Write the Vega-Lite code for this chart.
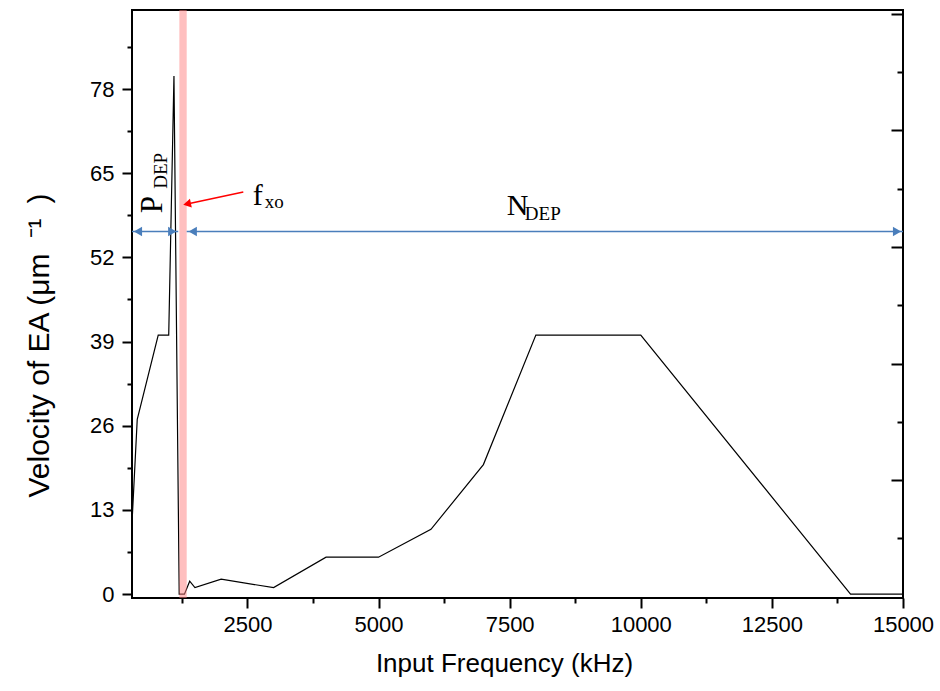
{
  "$schema": "https://vega.github.io/schema/vega-lite/v6.json",
  "autosize": "none",
  "width": 771,
  "height": 588,
  "padding": {"left": 132, "top": 10, "right": 37, "bottom": 93},
  "background": "white",
  "config": {
    "view": {"stroke": "black", "strokeWidth": 2},
    "font": "Liberation Sans"
  },
  "datasets": {
    "curve": [
      {"f": 300, "v": 11}, {"f": 400, "v": 27}, {"f": 800, "v": 40}, {"f": 1000, "v": 40},
      {"f": 1100, "v": 80}, {"f": 1200, "v": 0}, {"f": 1300, "v": 0}, {"f": 1400, "v": 2},
      {"f": 1500, "v": 1}, {"f": 2000, "v": 2.3}, {"f": 3000, "v": 1}, {"f": 4000, "v": 5.7},
      {"f": 5000, "v": 5.7}, {"f": 6000, "v": 10}, {"f": 7000, "v": 20}, {"f": 8000, "v": 40},
      {"f": 10000, "v": 40}, {"f": 14000, "v": 0}, {"f": 15000, "v": 0}
    ],
    "band": [{"a": 1203, "b": 1343, "lo": -0.6, "hi": 90.2}],
    "blue": [{"a": 300, "b": 1181, "v": 56}, {"a": 1343, "b": 15000, "v": 56}],
    "blueL": [{"f": 414, "v": 56}, {"f": 1458, "v": 56}],
    "blueR": [{"f": 1067, "v": 56}, {"f": 14886, "v": 56}],
    "red": [{"a": 2422, "av": 62.1, "b": 1350, "bv": 60.24}],
    "redHead": [{"f": 1350, "v": 60.24}],
    "big": [{"f": 2600, "v": 60.06, "t": "f"}, {"f": 7444, "v": 58.5, "t": "N"}],
    "small": [{"f": 2830, "v": 59.6, "t": "xo"}, {"f": 7790, "v": 57.7, "t": "DEP"}],
    "rotBig": [{"f": 872, "v": 58.8, "t": "P"}],
    "rotSmall": [{"f": 960, "v": 62.6, "t": "DEP"}]
  },
  "resolve": {"axis": {"y": "independent"}},
  "layer": [
    {
      "data": {"name": "curve"},
      "mark": {"type": "line", "color": "black", "strokeWidth": 1.2, "clip": true},
      "encoding": {
        "x": {
          "field": "f", "type": "quantitative",
          "scale": {"domain": [300, 15000], "nice": false, "zero": false},
          "axis": {
            "values": [1250, 2500, 3750, 5000, 6250, 7500, 8750, 10000, 11250, 12500, 13750, 15000],
            "format": "d",
            "labelExpr": "datum.value % 2500 === 0 ? datum.label : ''",
            "tickSize": {"condition": {"test": "datum.value % 2500 === 0", "value": 10}, "value": 5},
            "tickWidth": 2, "tickColor": "black", "domain": false, "grid": false,
            "labelFontSize": 22, "labelColor": "black", "labelPadding": 6,
            "labelFlush": false, "labelOverlap": false,
            "title": "Input Frequency (kHz)", "titleFontSize": 26, "titleFontWeight": "normal",
            "titleColor": "black", "titlePadding": 15, "titleX": 372, "titleAlign": "center"
          }
        },
        "y": {
          "field": "v", "type": "quantitative",
          "scale": {"domain": [-0.6, 90.2], "nice": false, "zero": false},
          "axis": {
            "orient": "left",
            "values": [0, 6.5, 13, 19.5, 26, 32.5, 39, 45.5, 52, 58.5, 65, 71.5, 78, 84.5],
            "format": "d",
            "labelExpr": "datum.value % 13 === 0 ? datum.label : ''",
            "tickSize": {"condition": {"test": "datum.value % 13 === 0", "value": 10}, "value": 5},
            "tickWidth": 2, "tickColor": "black", "domain": false, "grid": false,
            "labelFontSize": 22, "labelColor": "black", "labelPadding": 8,
            "labelOverlap": false,
            "title": "Velocity of EA (μm\u2002⁻¹\u2002)", "titleFontSize": 30, "titleFontWeight": "normal",
            "titleColor": "black", "titlePadding": 35, "titleY": 335, "titleAlign": "center"
          }
        }
      }
    },
    {
      "data": {"name": "band"},
      "mark": {"type": "rect", "color": "#ff7f7f", "opacity": 0.5},
      "encoding": {
        "x": {"field": "a", "type": "quantitative"},
        "x2": {"field": "b"},
        "y": {
          "field": "lo", "type": "quantitative",
          "axis": {
            "orient": "right",
            "values": [8.6, 17.6, 26.6, 35.6, 44.6, 53.6, 62.6, 71.6, 80.6, 89.6],
            "labels": false, "title": null, "domain": false, "grid": false,
            "tickSize": {"condition": {"test": "round((datum.value + 0.4) / 9) % 2 === 0", "value": -12}, "value": -6},
            "tickWidth": 2, "tickColor": "black"
          }
        },
        "y2": {"field": "hi"}
      }
    },
    {
      "data": {"name": "blue"},
      "mark": {"type": "rule", "color": "#4a7ebb", "strokeWidth": 1.5},
      "encoding": {
        "x": {"field": "a", "type": "quantitative"},
        "x2": {"field": "b"},
        "y": {"field": "v", "type": "quantitative", "axis": null}
      }
    },
    {
      "data": {"name": "blueL"},
      "mark": {"type": "point", "shape": "triangle-left", "filled": true, "color": "#4a7ebb", "size": 90, "opacity": 1},
      "encoding": {
        "x": {"field": "f", "type": "quantitative"},
        "y": {"field": "v", "type": "quantitative", "axis": null}
      }
    },
    {
      "data": {"name": "blueR"},
      "mark": {"type": "point", "shape": "triangle-right", "filled": true, "color": "#4a7ebb", "size": 90, "opacity": 1},
      "encoding": {
        "x": {"field": "f", "type": "quantitative"},
        "y": {"field": "v", "type": "quantitative", "axis": null}
      }
    },
    {
      "data": {"name": "red"},
      "mark": {"type": "rule", "color": "#ff0000", "strokeWidth": 1.5},
      "encoding": {
        "x": {"field": "a", "type": "quantitative"},
        "x2": {"field": "b"},
        "y": {"field": "av", "type": "quantitative", "axis": null},
        "y2": {"field": "bv"}
      }
    },
    {
      "data": {"name": "redHead"},
      "mark": {"type": "point", "shape": "triangle-left", "filled": true, "color": "#ff0000", "size": 80, "angle": 348, "opacity": 1},
      "encoding": {
        "x": {"field": "f", "type": "quantitative"},
        "y": {"field": "v", "type": "quantitative", "axis": null}
      }
    },
    {
      "data": {"name": "big"},
      "mark": {"type": "text", "font": "Liberation Serif", "fontSize": 30, "align": "left", "baseline": "alphabetic", "color": "black"},
      "encoding": {
        "x": {"field": "f", "type": "quantitative"},
        "y": {"field": "v", "type": "quantitative", "axis": null},
        "text": {"field": "t"}
      }
    },
    {
      "data": {"name": "small"},
      "mark": {"type": "text", "font": "Liberation Serif", "fontSize": 19, "align": "left", "baseline": "alphabetic", "color": "black"},
      "encoding": {
        "x": {"field": "f", "type": "quantitative"},
        "y": {"field": "v", "type": "quantitative", "axis": null},
        "text": {"field": "t"}
      }
    },
    {
      "data": {"name": "rotBig"},
      "mark": {"type": "text", "font": "Liberation Serif", "fontSize": 31, "align": "left", "baseline": "alphabetic", "angle": 270, "color": "black"},
      "encoding": {
        "x": {"field": "f", "type": "quantitative"},
        "y": {"field": "v", "type": "quantitative", "axis": null},
        "text": {"field": "t"}
      }
    },
    {
      "data": {"name": "rotSmall"},
      "mark": {"type": "text", "font": "Liberation Serif", "fontSize": 19, "align": "left", "baseline": "alphabetic", "angle": 270, "color": "black"},
      "encoding": {
        "x": {"field": "f", "type": "quantitative"},
        "y": {"field": "v", "type": "quantitative", "axis": null},
        "text": {"field": "t"}
      }
    }
  ]
}
